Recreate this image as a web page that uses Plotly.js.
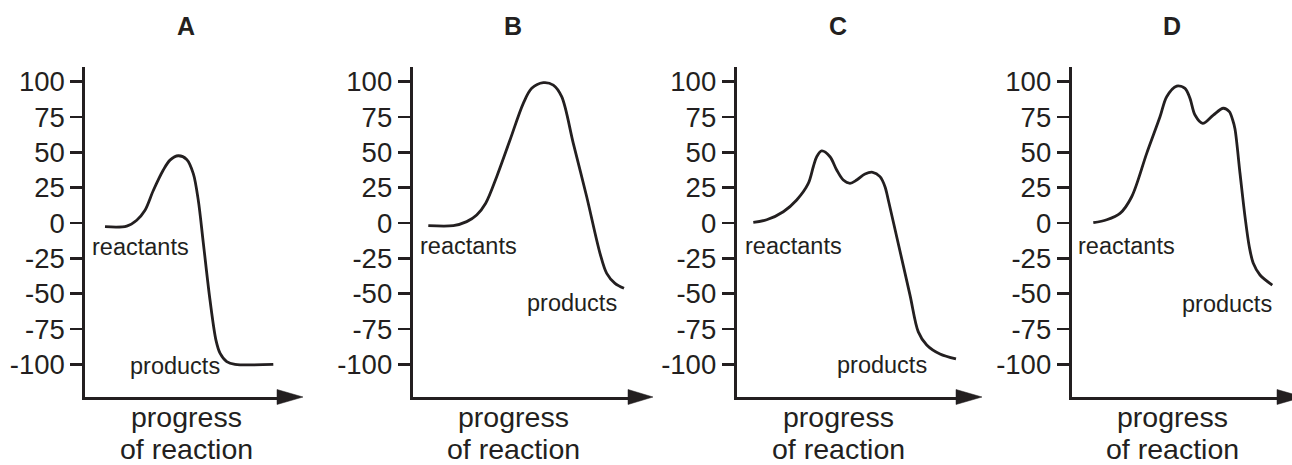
<!DOCTYPE html>
<html>
<head>
<meta charset="utf-8">
<script src="https://cdn.plot.ly/plotly-3.0.1.min.js"></script>
<style>html,body{margin:0;padding:0;background:#fff;}#chart{width:1292px;height:465px;}</style>
</head>
<body>
<div id="chart"></div>
<script>
// ---------- data (progress of reaction, energy) ----------
const panelTitles = ['A', 'B', 'C', 'D'];
const tickVals = [-100, -75, -50, -25, 0, 25, 50, 75, 100];
const tickText = ['-100', '-75', '-50', '-25', '0', '25', '50', '75', '100'];
const labelReactants = 'reactants';
const labelProducts = 'products';
const axisTitleLine1 = 'progress';
const axisTitleLine2 = 'of reaction';

const progressA = [19.7, 41.4, 51.4, 59.7, 68, 78, 84.7, 93, 101.4, 108, 113, 118, 124.7, 130.7, 134.7, 141.4, 149.7, 188];
const energyA   = [-2.6, -2.2, 2, 9, 23, 37.5, 44.5, 47.6, 45, 35, 16, -14, -54.5, -83, -92, -98, -100, -100];

const progressB = [15.6, 40.6, 54, 64, 73, 84, 97.3, 110.6, 119, 130.6, 140.6, 149, 160.6, 174, 187.3, 194, 202.3, 211.3];
const energyB   = [-1.8, -1.8, 1, 5.7, 14, 32.8, 58.7, 84.7, 95.3, 99.3, 97.6, 89.4, 56.4, 18.6, -21.4, -35.6, -42.7, -46.2];

const progressC = [16.6, 30, 46.6, 60, 71.6, 76.6, 80, 85, 93.3, 100, 106.6, 113.3, 120, 128.3, 136, 143.3, 148.3, 151.6, 160, 173.3, 181.6, 190, 203.3, 219.3];
const energyC   = [0.5, 2.3, 8, 16.3, 28, 39.8, 46.9, 51, 46.9, 37.5, 30.4, 28.1, 30.4, 34.7, 35.9, 32.8, 25.7, 16.3, -9.7, -51, -77, -86.3, -92.7, -96.2];

const progressD = [21.6, 35, 48.3, 60, 75, 88.3, 95, 105, 113.3, 118.3, 123.3, 131, 141.6, 151.6, 157.6, 161, 163.3, 168.3, 173.3, 177.6, 181.6, 188.3, 200.6];
const energyD   = [0.2, 2.3, 6.8, 18.6, 49.3, 75.2, 89.4, 96.9, 95.3, 88.2, 76.4, 70.5, 76.4, 81.2, 78.8, 72.9, 66.5, 35.2, 4.5, -16.8, -28.5, -36.8, -43.9];

const progressData = [progressA, progressB, progressC, progressD];
const energyData = [energyA, energyB, energyC, energyD];

// ---------- layout geometry (pixels) ----------
const W = 1292, H = 465;
const axisPx = [85.3, 412.7, 736.7, 1071.7];
const headStart = [277, 628, 956, 1277];
const headTip = [303, 653, 982, 1303];
const yTopPx = 67, yBotPx = 397;
const yRange = [-123.1, 110.4];
const reactPos = [[140.8, 254], [468, 253], [793.3, 253], [1126.7, 253]];
const prodPos = [[175, 373], [572, 310], [881.7, 372.7], [1226.7, 311.7]];
const titleX = [186, 513.3, 838.3, 1172];
const axisTitleX = [186.2, 513.3, 839, 1172.5];

const INK = '#231f20';
const FONT = 'Liberation Sans, Arial, Helvetica, sans-serif';
const px = v => v / W;
const py = v => 1 - v / H;

const traces = [];
const layout = {
  width: W, height: H,
  margin: {l: 0, r: 0, t: 0, b: 0},
  paper_bgcolor: '#fff', plot_bgcolor: 'rgba(0,0,0,0)',
  showlegend: false,
  font: {family: FONT, color: INK},
  annotations: [], shapes: []
};

for (let i = 0; i < 4; i++) {
  const s = i === 0 ? '' : String(i + 1);
  const domW = headStart[i] + 2 - axisPx[i];
  traces.push({
    x: progressData[i], y: energyData[i],
    xaxis: 'x' + s, yaxis: 'y' + s,
    type: 'scatter', mode: 'lines',
    line: {color: INK, width: 2.8, shape: 'spline', smoothing: 0.9},
    hoverinfo: 'skip'
  });
  layout['xaxis' + s] = {
    domain: [px(axisPx[i]), px(axisPx[i] + domW)],
    range: [0, domW], anchor: 'y' + s,
    showline: true, linecolor: INK, linewidth: 3,
    showticklabels: false, ticks: '', showgrid: false, zeroline: false,
    fixedrange: true
  };
  layout['yaxis' + s] = {
    domain: [py(yBotPx), py(yTopPx)],
    range: yRange, anchor: 'x' + s,
    showline: true, linecolor: INK, linewidth: 3,
    tickmode: 'array', tickvals: tickVals, ticktext: tickText,
    ticks: 'outside', ticklen: 12, tickwidth: 2.5, tickcolor: INK,
    tickfont: {family: FONT, size: 27.5, color: INK},
    showgrid: false, zeroline: false, automargin: false, fixedrange: true
  };
  // arrowhead
  const yc = 397, hh = 7.5;
  layout.shapes.push({
    type: 'path', xref: 'paper', yref: 'paper',
    path: `M ${px(headStart[i])} ${py(yc - hh)} L ${px(headTip[i])} ${py(yc)} L ${px(headStart[i])} ${py(yc + hh)} Z`,
    fillcolor: INK, line: {color: INK, width: 0.5}
  });
  // panel title
  layout.annotations.push({
    text: '<b>' + panelTitles[i] + '</b>', xref: 'paper', yref: 'paper',
    x: px(titleX[i]), y: py(26), xanchor: 'center', yanchor: 'middle',
    showarrow: false, font: {family: FONT, size: 25, color: INK}
  });
  // labels
  layout.annotations.push({
    text: labelReactants, xref: 'paper', yref: 'paper',
    x: px(reactPos[i][0]), y: py(reactPos[i][1] - 7.5), xanchor: 'center', yanchor: 'middle',
    showarrow: false, font: {family: FONT, size: 23.5, color: INK}
  });
  layout.annotations.push({
    text: labelProducts, xref: 'paper', yref: 'paper',
    x: px(prodPos[i][0]), y: py(prodPos[i][1] - 7.5), xanchor: 'center', yanchor: 'middle',
    showarrow: false, font: {family: FONT, size: 23.5, color: INK}
  });
  layout.annotations.push({
    text: axisTitleLine1, xref: 'paper', yref: 'paper',
    x: px(axisTitleX[i]), y: py(428 - 11), xanchor: 'center', yanchor: 'middle',
    showarrow: false, font: {family: FONT, size: 28.5, color: INK}
  });
  layout.annotations.push({
    text: axisTitleLine2, xref: 'paper', yref: 'paper',
    x: px(axisTitleX[i]), y: py(461 - 12), xanchor: 'center', yanchor: 'middle',
    showarrow: false, font: {family: FONT, size: 28.5, color: INK}
  });
}

Plotly.newPlot('chart', traces, layout, {displayModeBar: false, staticPlot: true});
</script>
</body>
</html>
